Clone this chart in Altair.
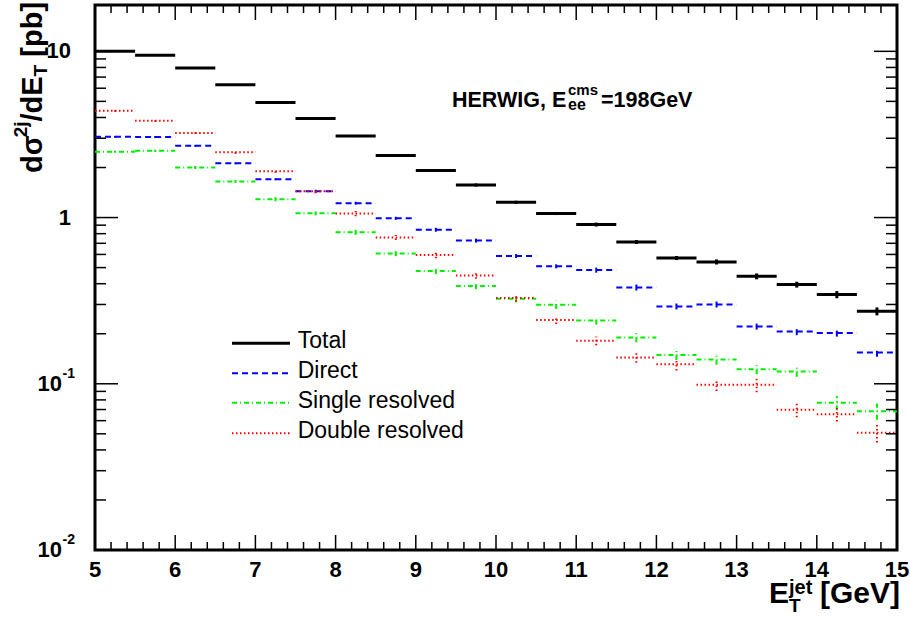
import altair as alt
import pandas as pd

# ---------------- data ----------------
bin_lo = [5.0, 5.5, 6.0, 6.5, 7.0, 7.5, 8.0, 8.5, 9.0, 9.5,
          10.0, 10.5, 11.0, 11.5, 12.0, 12.5, 13.0, 13.5, 14.0, 14.5]
bin_hi = [5.5, 6.0, 6.5, 7.0, 7.5, 8.0, 8.5, 9.0, 9.5, 10.0,
          10.5, 11.0, 11.5, 12.0, 12.5, 13.0, 13.5, 14.0, 14.5, 15.0]

total = [10.0, 9.46, 7.93, 6.29, 4.93, 3.95, 3.09, 2.36, 1.92, 1.57,
         1.236, 1.057, 0.908, 0.713, 0.571, 0.541, 0.443, 0.395, 0.344, 0.273]
total_err = [0.07, 0.066, 0.055, 0.044, 0.069, 0.055, 0.043, 0.033, 0.040, 0.033,
             0.026, 0.022, 0.025, 0.020, 0.016, 0.019, 0.018, 0.016, 0.017, 0.015]

direct = [3.06, 3.05, 2.70, 2.12, 1.70, 1.44, 1.22, 0.99, 0.845, 0.727,
          0.587, 0.509, 0.483, 0.380, 0.292, 0.300, 0.221, 0.206, 0.202, 0.154]
direct_err = [0.042, 0.042, 0.038, 0.029, 0.024, 0.030, 0.025, 0.021, 0.023, 0.020,
              0.016, 0.014, 0.017, 0.016, 0.012, 0.0125, 0.0092, 0.010, 0.0098, 0.0086]

single = [2.49, 2.52, 2.00, 1.65, 1.29, 1.06, 0.815, 0.607, 0.477, 0.387,
          0.325, 0.299, 0.240, 0.190, 0.149, 0.140, 0.1225, 0.1186, 0.0769, 0.0684]
single_err = [0.035, 0.035, 0.042, 0.034, 0.036, 0.029, 0.028, 0.021, 0.020, 0.016,
              0.016, 0.017, 0.013, 0.012, 0.010, 0.0097, 0.0085, 0.0082, 0.0075, 0.0076]

double = [4.39, 3.82, 3.23, 2.47, 1.90, 1.44, 1.057, 0.758, 0.595, 0.448,
          0.328, 0.242, 0.1815, 0.144, 0.131, 0.0986, 0.0986, 0.0697, 0.0656, 0.0507]
double_err = [0.061, 0.053, 0.045, 0.051, 0.040, 0.040, 0.037, 0.026, 0.025, 0.019,
              0.016, 0.013, 0.011, 0.010, 0.011, 0.0082, 0.0096, 0.0068, 0.0064, 0.0063]

series_names = ["total", "direct", "single", "double"]
legend_labels = ["Total", "Direct", "Single resolved", "Double resolved"]

x_major = [5, 6, 7, 8, 9, 10, 11, 12, 13, 14, 15]
x_labels = ["5", "6", "7", "8", "9", "10", "11", "12", "13", "14", "15"]
x_minor_step = 0.2
y_major = [0.01, 0.1, 1, 10]
y_label_base = ["10", "10", "1", "10"]
y_label_sup = ["-2", "-1", "", ""]

ytitle_parts = ["dσ", "2j", "/dE", "T", "[pb]"]
xtitle_parts = ["E", "jet", "T", "[GeV]"]
note_parts = ["HERWIG, E", "ee", "cms", "=198GeV"]

# ---------------- style ----------------
FONT = "Liberation Sans"
W, H = 802, 545
xs = alt.Scale(domain=[5, 15], nice=False, zero=False)
ys = alt.Scale(type="log", domain=[0.01, 19], nice=False)

styles = {
    "total": dict(color="black", strokeWidth=3),
    "direct": dict(color="#0000ff", strokeWidth=2, strokeDash=[6, 4]),
    "single": dict(color="#00ee00", strokeWidth=2, strokeDash=[5, 3, 1, 3]),
    "double": dict(color="#ff0000", strokeWidth=2, strokeDash=[1.5, 2.5]),
}

vals = {"total": (total, total_err), "direct": (direct, direct_err),
        "single": (single, single_err), "double": (double, double_err)}

df = pd.DataFrame({"lo": bin_lo, "hi": bin_hi})
df["c"] = (df["lo"] + df["hi"]) / 2
for s in series_names:
    v, e = vals[s]
    df[s] = v
    df[s + "_lo"] = [a - b for a, b in zip(v, e)]
    df[s + "_hi"] = [a + b for a, b in zip(v, e)]

layers = []
for s in ["direct", "single", "double", "total"]:
    st = styles[s]
    layers.append(alt.Chart(df).mark_rule(**st).encode(
        x=alt.X("lo:Q", scale=xs, axis=None), x2="hi:Q",
        y=alt.Y(s + ":Q", scale=ys, axis=None)))
    layers.append(alt.Chart(df).mark_rule(**st).encode(
        x=alt.X("c:Q", scale=xs, axis=None),
        y=alt.Y(s + "_lo:Q", scale=ys, axis=None), y2=s + "_hi:Q"))

# ---------------- ticks (inside the frame) ----------------
x_minor = [round(5 + x_minor_step * i, 2) for i in range(51)]
x_minor = [v for v in x_minor if abs(v - round(v)) > 1e-6]
y_minor = [k * d for d in (0.01, 0.1, 1) for k in range(2, 10)]

dfxM = pd.DataFrame({"v": x_major, "lab": x_labels})
dfxm = pd.DataFrame({"v": x_minor})
dfyM = pd.DataFrame({"v": y_major})
dfym = pd.DataFrame({"v": y_minor})

tick_style = dict(color="black", strokeWidth=1.5)
for d, L in ((dfxM, 15), (dfxm, 8)):
    layers.append(alt.Chart(d).mark_rule(**tick_style).encode(
        x=alt.X("v:Q", scale=xs, axis=None), y=alt.value(H), y2=alt.value(H - L)))
    layers.append(alt.Chart(d).mark_rule(**tick_style).encode(
        x=alt.X("v:Q", scale=xs, axis=None), y=alt.value(0), y2=alt.value(L)))
for d, L in ((dfyM, 23), (dfym, 11)):
    layers.append(alt.Chart(d).mark_rule(**tick_style).encode(
        y=alt.Y("v:Q", scale=ys, axis=None), x=alt.value(0), x2=alt.value(L)))
    layers.append(alt.Chart(d).mark_rule(**tick_style).encode(
        y=alt.Y("v:Q", scale=ys, axis=None), x=alt.value(W), x2=alt.value(W - L)))

# ---------------- x tick labels ----------------
layers.append(alt.Chart(dfxM).mark_text(
    align="center", baseline="alphabetic", font=FONT, fontSize=22, fontWeight="bold",
    color="black").encode(x=alt.X("v:Q", scale=xs, axis=None), y=alt.value(H + 27),
                          text="lab:N"))

# ---------------- y tick labels ----------------
dfyl = pd.DataFrame({"v": y_major, "base": y_label_base, "sup": y_label_sup})
dfyl_plain = dfyl[dfyl["sup"] == ""]
dfyl_exp = dfyl[dfyl["sup"] != ""]
layers.append(alt.Chart(dfyl_plain).mark_text(
    align="right", baseline="middle", font=FONT, fontSize=22, fontWeight="bold",
    color="black").encode(y=alt.Y("v:Q", scale=ys, axis=None), x=alt.value(-24), text="base:N"))
layers.append(alt.Chart(dfyl_exp).mark_text(
    align="right", baseline="middle", font=FONT, fontSize=22, fontWeight="bold",
    color="black").encode(y=alt.Y("v:Q", scale=ys, axis=None), x=alt.value(-33), text="base:N"))
layers.append(alt.Chart(dfyl_exp).mark_text(
    align="right", baseline="middle", font=FONT, fontSize=14, fontWeight="bold",
    color="black", dy=-10).encode(y=alt.Y("v:Q", scale=ys, axis=None), x=alt.value(-20), text="sup:N"))


def txt(s, x, y, size, weight="bold", angle=None, align="left"):
    kw = dict(align=align, baseline="alphabetic", font=FONT, fontSize=size,
              fontWeight=weight, color="black")
    if angle is not None:
        kw["angle"] = angle
    return alt.Chart(pd.DataFrame({"t": [s]})).mark_text(**kw).encode(
        x=alt.value(x), y=alt.value(y), text="t:N")


# ---------------- y title (rotated) ----------------
layers.append(txt(ytitle_parts[0], -53, 168, 29, angle=270))
layers.append(txt(ytitle_parts[1], -68, 132.3, 19, angle=270))
layers.append(txt(ytitle_parts[2], -53, 116.5, 29, angle=270))
layers.append(txt(ytitle_parts[3], -48.5, 71.4, 19, angle=270))
layers.append(txt(ytitle_parts[4], -53, 51.7, 29, angle=270))

# ---------------- x title ----------------
layers.append(txt(xtitle_parts[0], 674, 598, 30))
layers.append(txt(xtitle_parts[1], 694, 589, 20))
layers.append(txt(xtitle_parts[2], 694, 607, 19))
layers.append(txt(xtitle_parts[3], 725, 598, 30))

# ---------------- annotation ----------------
layers.append(txt(note_parts[0], 357, 101.7, 21.5))
layers.append(txt(note_parts[1], 473, 105, 16))
layers.append(txt(note_parts[2], 473, 90, 15))
layers.append(txt(note_parts[3], 506, 101.7, 21.5))

# ---------------- legend ----------------
leg_y = [338.3, 368.3, 397.7, 428.3]
for s, lab, ly in zip(series_names, legend_labels, leg_y):
    st = dict(styles[s])
    layers.append(alt.Chart(pd.DataFrame({"t": [lab]})).mark_rule(**st).encode(
        x=alt.value(137), x2=alt.value(195), y=alt.value(ly)))
    layers.append(txt(lab, 202.7, ly + 5, 23, weight="normal"))

chart = alt.layer(*layers).properties(
    width=W, height=H,
    autosize=alt.AutoSizeParams(type="none"),
    padding={"left": 95, "top": 5, "right": 13, "bottom": 67},
    background="white",
).configure_view(stroke="black", strokeWidth=3)

chart.save("out.html", embed_options={"renderer": "svg", "actions": False})
